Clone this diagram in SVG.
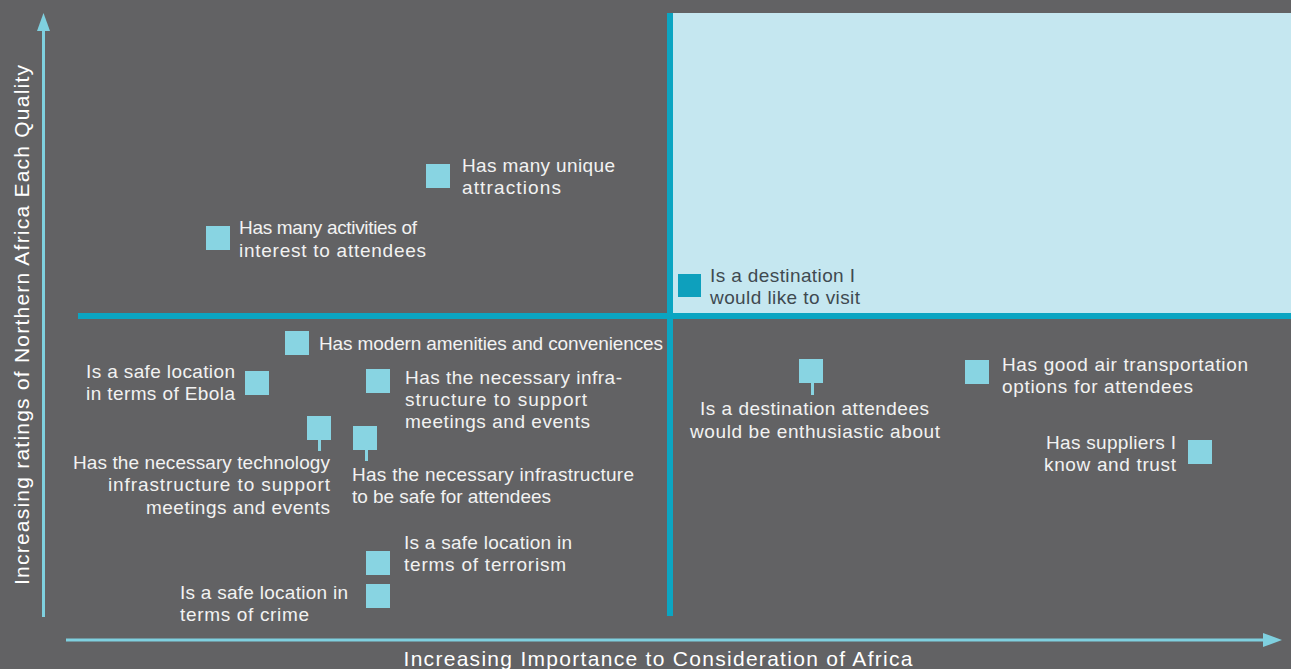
<svg xmlns="http://www.w3.org/2000/svg" width="1291" height="669" viewBox="0 0 1291 669">
<defs>
<style>
.t{font-family:"Liberation Sans",Arial,sans-serif;font-size:19px;fill:#f2f2f2}
.d{fill:#3f4a50}
.e{text-anchor:end}
.m{text-anchor:middle}
.sq{fill:#88d4e2}
.stem{stroke:#88d4e2;stroke-width:3}
.ax{font-family:"Liberation Sans",Arial,sans-serif;font-size:21px;fill:#ffffff}
</style>
</defs>
<rect width="1291" height="669" fill="#626264"/>
<g id="quadrant">
<rect x="673" y="13" width="618" height="300" fill="#c5e7f0"/>
<rect x="667" y="13" width="6" height="603" fill="#0ba5c2"/>
<rect x="78" y="313" width="1213" height="6" fill="#0ba5c2"/>
</g>
<g id="axes">
<line x1="43.5" y1="617" x2="43.5" y2="30" stroke="#7fd0df" stroke-width="3"/>
<polygon points="43.5,13 37,31 50,31" fill="#7fd0df"/>
<line x1="66" y1="640" x2="1265" y2="640" stroke="#7fd0df" stroke-width="3"/>
<polygon points="1282,640 1263,633 1263,647" fill="#7fd0df"/>
<text class="ax m" x="658" y="666" textLength="509">Increasing Importance to Consideration of Africa</text>
<text class="ax m" transform="translate(29,325) rotate(-90)" textLength="520">Increasing ratings of Northern Africa Each Quality</text>
</g>
<g id="n1"><rect class="sq" x="426" y="164" width="24" height="24"/><text class="t" x="462" y="172" textLength="153">Has many unique</text><text class="t" x="462" y="194" textLength="99">attractions</text></g>
<g id="n2"><rect class="sq" x="206" y="226" width="24" height="24"/><text class="t" x="239" y="234" textLength="178">Has many activities of</text><text class="t" x="239" y="257" textLength="187">interest to attendees</text></g>
<g id="n3"><rect x="678" y="274" width="23" height="23" fill="#0ea0bd"/><text class="t d" x="710" y="282" textLength="145">Is a destination I</text><text class="t d" x="710" y="304" textLength="150">would like to visit</text></g>
<g id="n4"><rect class="sq" x="285" y="331" width="24" height="24"/><text class="t" x="319" y="350" textLength="344">Has modern amenities and conveniences</text></g>
<g id="n5"><rect class="sq" x="245" y="371" width="24" height="24"/><text class="t e" x="235" y="378" textLength="149">Is a safe location</text><text class="t e" x="235" y="400" textLength="149">in terms of Ebola</text></g>
<g id="n6"><rect class="sq" x="366" y="369" width="24" height="24"/><text class="t" x="405" y="384" textLength="217">Has the necessary infra-</text><text class="t" x="405" y="406" textLength="182">structure to support</text><text class="t" x="405" y="428" textLength="185">meetings and events</text></g>
<g id="n7"><rect class="sq" x="307" y="416" width="24" height="24"/><line class="stem" x1="319.5" y1="440" x2="319.5" y2="451"/><text class="t e" x="330" y="469" textLength="257">Has the necessary technology</text><text class="t e" x="330" y="491" textLength="222">infrastructure to support</text><text class="t e" x="330" y="514" textLength="184">meetings and events</text></g>
<g id="n8"><rect class="sq" x="353" y="426" width="24" height="24"/><line class="stem" x1="366.5" y1="450" x2="366.5" y2="461"/><text class="t" x="352" y="481" textLength="282">Has the necessary infrastructure</text><text class="t" x="352" y="503" textLength="199">to be safe for attendees</text></g>
<g id="n9"><rect class="sq" x="366" y="551" width="24" height="24"/><text class="t" x="404" y="549" textLength="168">Is a safe location in</text><text class="t" x="404" y="571" textLength="162">terms of terrorism</text></g>
<g id="n10"><rect class="sq" x="366" y="584" width="24" height="24"/><text class="t" x="180" y="599" textLength="168">Is a safe location in</text><text class="t" x="180" y="621" textLength="129">terms of crime</text></g>
<g id="n11"><rect class="sq" x="799" y="359" width="24" height="24"/><line class="stem" x1="812.5" y1="383" x2="812.5" y2="395"/><text class="t m" x="814.5" y="415" textLength="229">Is a destination attendees</text><text class="t m" x="815" y="438" textLength="250">would be enthusiastic about</text></g>
<g id="n12"><rect class="sq" x="965" y="360" width="24" height="24"/><text class="t" x="1002" y="371" textLength="246">Has good air transportation</text><text class="t" x="1002" y="393" textLength="191">options for attendees</text></g>
<g id="n13"><rect class="sq" x="1188" y="440" width="24" height="24"/><text class="t e" x="1176" y="449" textLength="130">Has suppliers I</text><text class="t e" x="1176" y="471" textLength="132">know and trust</text></g>
</svg>
